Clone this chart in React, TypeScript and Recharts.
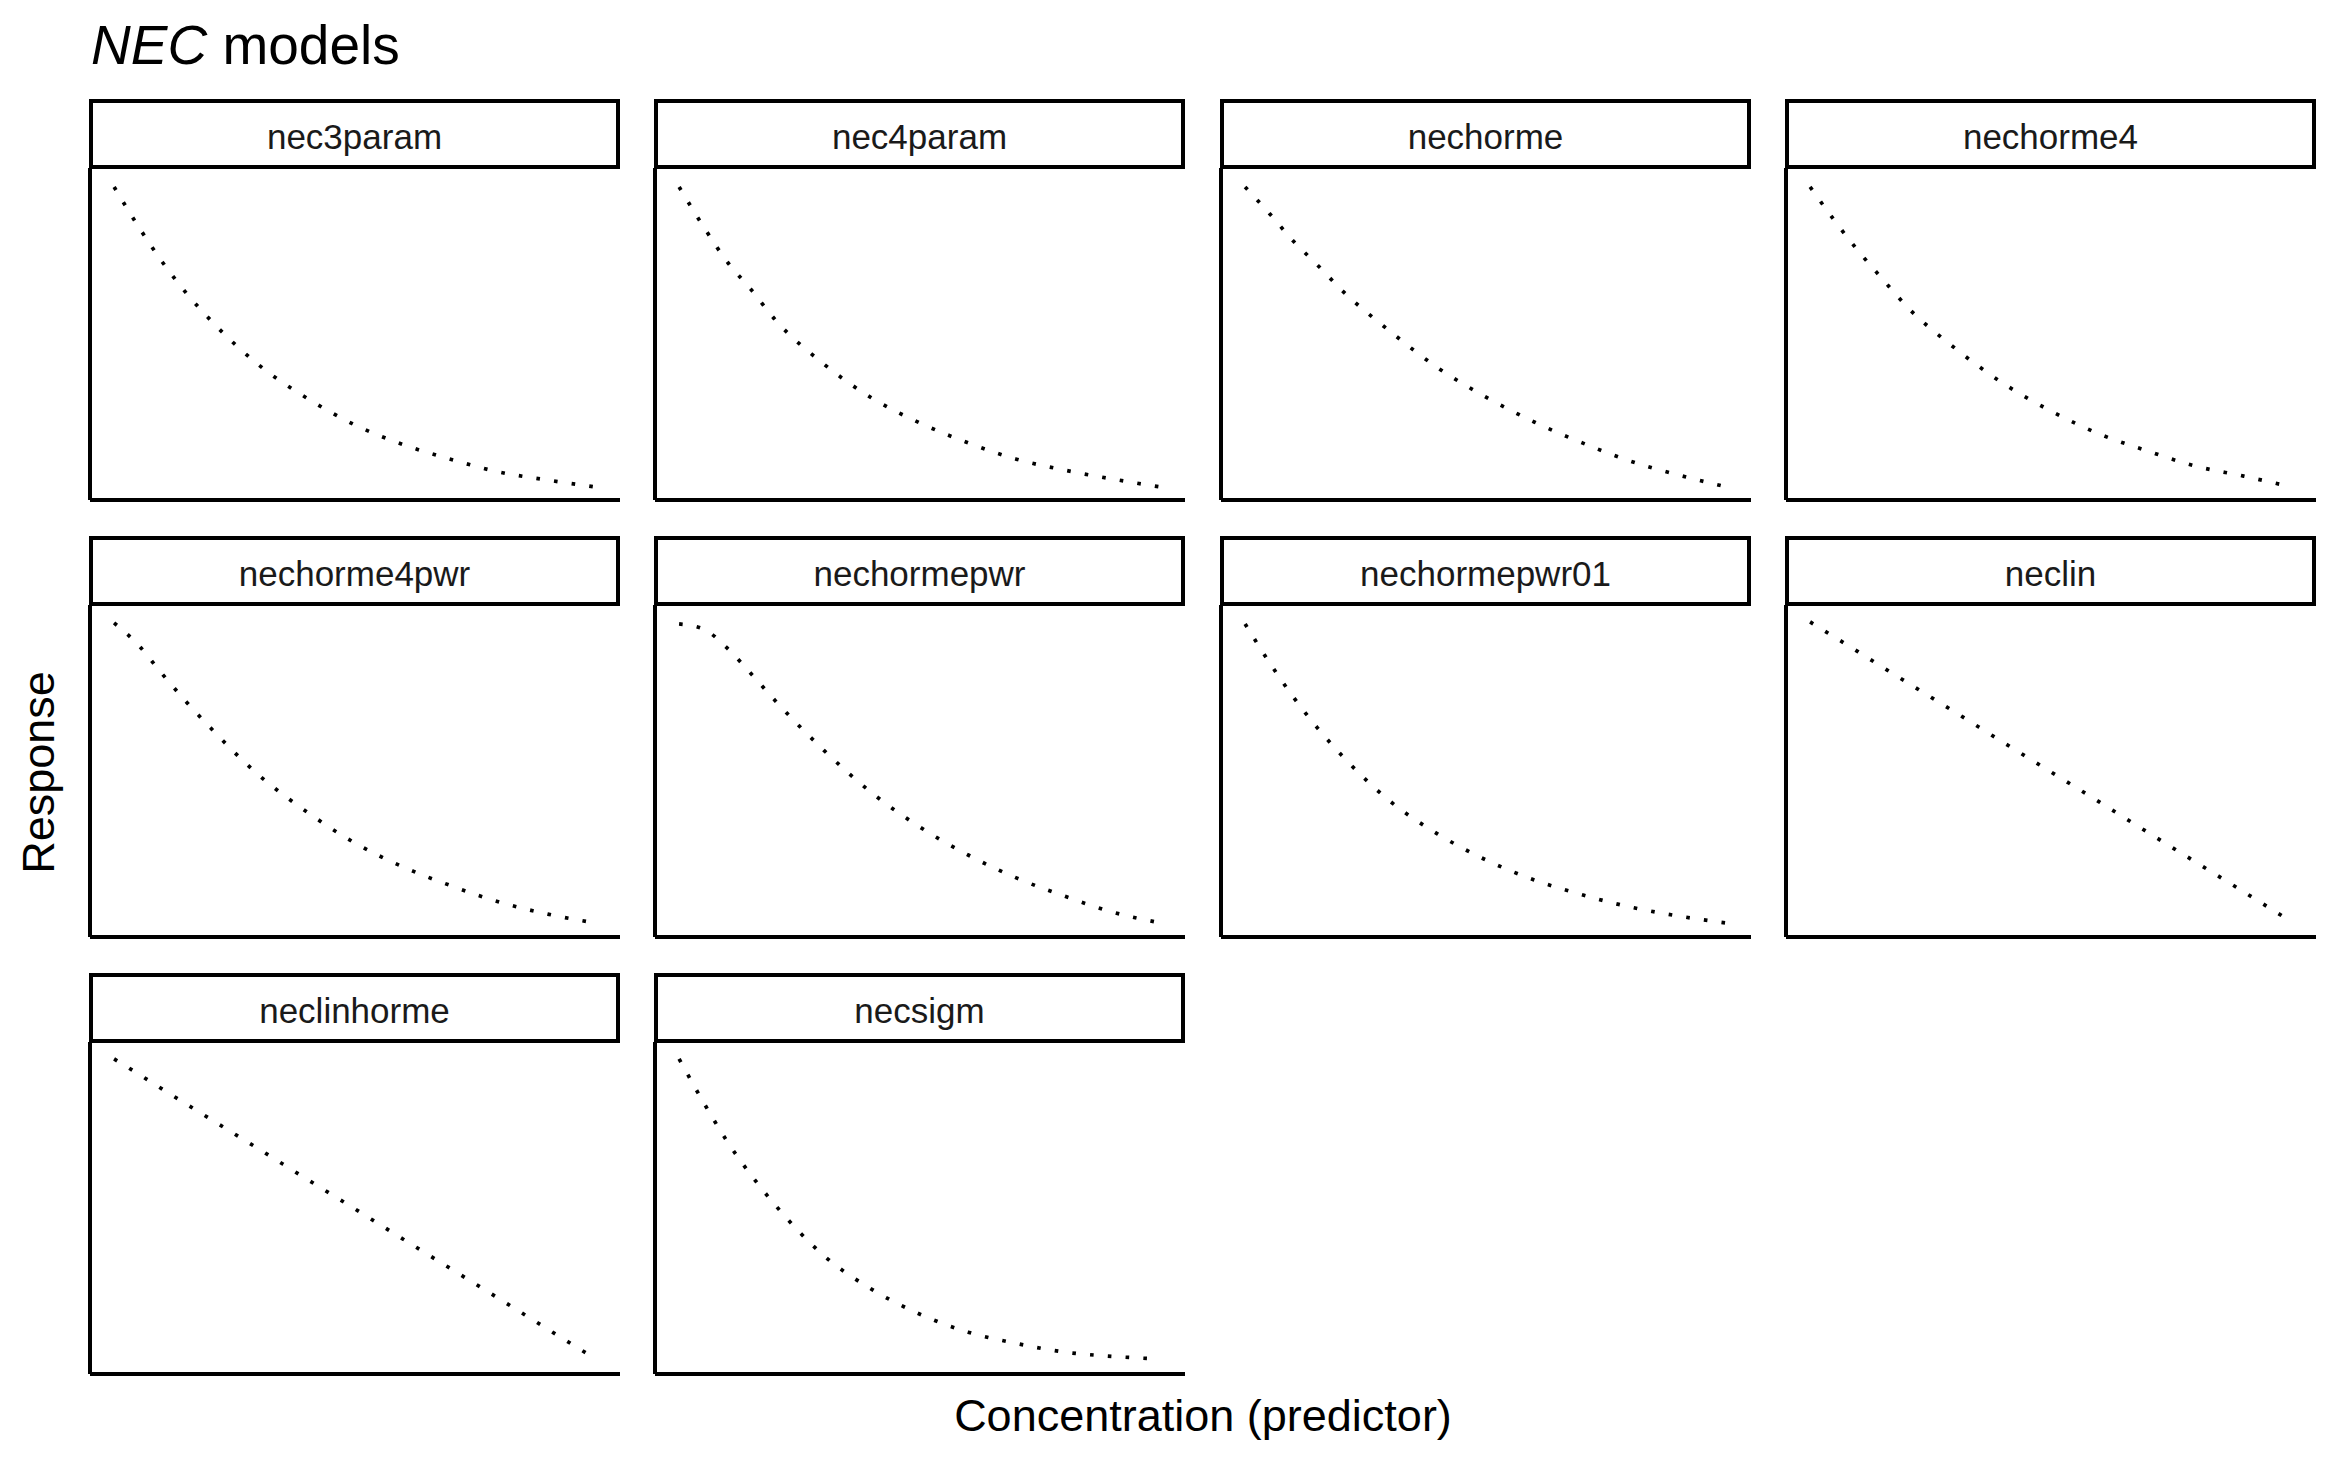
import { LineChart, Line, XAxis, YAxis } from "recharts";

// concentration grid (shared x values, normalised 0..1)
const concentration = [0, 0.05, 0.1, 0.15, 0.2, 0.3, 0.4, 0.5, 0.6, 0.7, 0.8, 0.9, 1];

const models = [
  "nec3param",
  "nec4param",
  "nechorme",
  "nechorme4",
  "nechorme4pwr",
  "nechormepwr",
  "nechormepwr01",
  "neclin",
  "neclinhorme",
  "necsigm",
];

// responses, one list per model
const nec3param = [0.943, 0.825, 0.717, 0.623, 0.542, 0.407, 0.307, 0.226, 0.167, 0.122, 0.084, 0.06, 0.039];
const nec4param = [0.943, 0.825, 0.717, 0.633, 0.542, 0.41, 0.307, 0.232, 0.172, 0.123, 0.09, 0.063, 0.039];
const nechorme = [0.943, 0.864, 0.78, 0.708, 0.633, 0.509, 0.398, 0.31, 0.235, 0.172, 0.117, 0.075, 0.039];
const nechorme4 = [0.943, 0.843, 0.75, 0.666, 0.584, 0.458, 0.352, 0.268, 0.199, 0.148, 0.102, 0.072, 0.039];
const nechorme4pwr = [0.946, 0.88, 0.792, 0.708, 0.63, 0.488, 0.377, 0.283, 0.211, 0.154, 0.105, 0.069, 0.042];
const nechormepwr = [0.943, 0.928, 0.87, 0.792, 0.711, 0.563, 0.434, 0.331, 0.247, 0.178, 0.123, 0.075, 0.042];
const nechormepwr01 = [0.943, 0.828, 0.723, 0.63, 0.548, 0.41, 0.31, 0.232, 0.172, 0.127, 0.09, 0.063, 0.042];
const neclin = [0.949, 0.904, 0.859, 0.813, 0.768, 0.678, 0.587, 0.497, 0.407, 0.316, 0.226, 0.136, 0.045];
const neclinhorme = [0.949, 0.904, 0.858, 0.813, 0.768, 0.678, 0.587, 0.497, 0.406, 0.316, 0.226, 0.135, 0.045];
const necsigm = [0.949, 0.82, 0.7, 0.598, 0.508, 0.357, 0.255, 0.18, 0.126, 0.092, 0.066, 0.053, 0.045];

const responses = [
  nec3param,
  nec4param,
  nechorme,
  nechorme4,
  nechorme4pwr,
  nechormepwr,
  nechormepwr01,
  neclin,
  neclinhorme,
  necsigm,
];

const FONT = '"Liberation Sans", Arial, Helvetica, sans-serif';
const PANEL_W = 530;
const PANEL_H = 332;
const STRIP_H = 70;
const AXIS_PAD = 4;
const COL_X = [90, 655, 1221, 1786];
const ROW_Y = [99, 536, 973];

function Facet({ name, values, left, top }: { name: string; values: number[]; left: number; top: number }) {
  const data = concentration.map((c, i) => ({ conc: c, resp: values[i] }));
  return (
    <div style={{ position: "absolute", left, top }}>
      <div
        style={{
          position: "absolute",
          left: -1,
          top: 0,
          width: PANEL_W + 1,
          height: STRIP_H,
          border: "4px solid #000",
          boxSizing: "border-box",
        }}
      >
        <div
          style={{
            position: "absolute",
            left: 0,
            right: 0,
            top: 16.4,
            textAlign: "center",
            fontSize: 35,
            lineHeight: "35px",
            color: "#1a1a1a",
            whiteSpace: "nowrap",
          }}
        >
          {name}
        </div>
      </div>
      <div style={{ position: "absolute", left: -AXIS_PAD, top: STRIP_H - 1 }}>
        <LineChart
          width={PANEL_W + AXIS_PAD + 2}
          height={PANEL_H + AXIS_PAD}
          data={data}
          margin={{ top: 0, right: 2, bottom: 0, left: 0 }}
        >
          <XAxis
            type="number"
            dataKey="conc"
            domain={[-0.05, 1.05]}
            height={AXIS_PAD}
            tick={false}
            tickLine={false}
            axisLine={{ stroke: "#000", strokeWidth: 4 }}
          />
          <YAxis
            type="number"
            domain={[0, 1]}
            width={AXIS_PAD}
            tick={false}
            tickLine={false}
            axisLine={{ stroke: "#000", strokeWidth: 4 }}
          />
          <Line
            dataKey="resp"
            type="monotone"
            stroke="#000"
            strokeWidth={3.7}
            strokeDasharray="3.6 14.2"
            dot={false}
            activeDot={false}
            isAnimationActive={false}
          />
        </LineChart>
      </div>
    </div>
  );
}

export default function App() {
  return (
    <div
      style={{
        position: "absolute",
        left: 0,
        top: 0,
        width: 2340,
        height: 1464,
        background: "#fff",
        fontFamily: FONT,
        overflow: "hidden",
      }}
    >
      <div style={{ position: "absolute", left: 91, top: 18.4, fontSize: 55, lineHeight: "55px", color: "#000", whiteSpace: "nowrap" }}>
        <i>NEC</i> models
      </div>

      {models.map((m, i) => (
        <Facet key={m} name={m} values={responses[i]} left={COL_X[i % 4]} top={ROW_Y[Math.floor(i / 4)]} />
      ))}

      <div
        style={{
          position: "absolute",
          left: 703,
          width: 1000,
          top: 1392.9,
          textAlign: "center",
          fontSize: 45,
          lineHeight: "45px",
          color: "#000",
          whiteSpace: "nowrap",
        }}
      >
        Concentration (predictor)
      </div>

      <div
        style={{
          position: "absolute",
          left: 38.4 - 200,
          top: 772 - 22.5,
          width: 400,
          height: 45,
          textAlign: "center",
          fontSize: 45,
          lineHeight: "45px",
          color: "#000",
          transform: "rotate(-90deg)",
          whiteSpace: "nowrap",
        }}
      >
        Response
      </div>
    </div>
  );
}
